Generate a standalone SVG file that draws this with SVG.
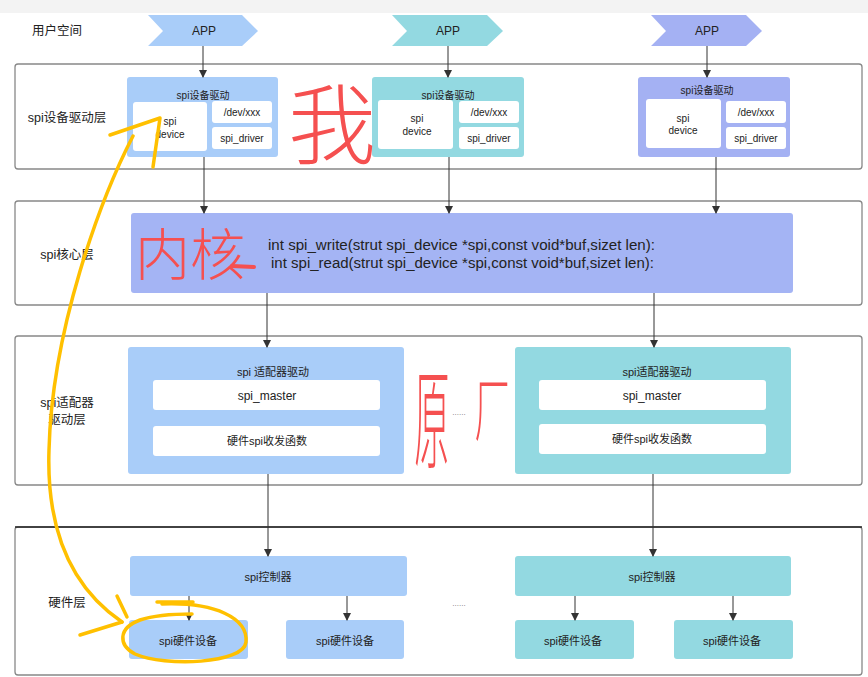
<svg xmlns="http://www.w3.org/2000/svg" width="868" height="677" viewBox="0 0 868 677">
<style>
text{font-family:"Liberation Sans","Noto Sans CJK SC",sans-serif;fill:#222;text-anchor:middle;dominant-baseline:central}
.layer{fill:#fff;stroke:#888;stroke-width:1.3}
.blue{fill:#a9cdf9}
.teal{fill:#93d9e1}
.purp{fill:#a4b1f3}
.core{fill:#a4b4f4}
.wbox{fill:#fff}
.lab{font-size:12.5px}
.t10{font-size:10px}
.t11{font-size:11px}
.t12{font-size:12px}
.dots{font-size:8px;fill:#777}
.conn line{stroke:#333;stroke-width:1}
.hand{fill:#f55050;font-family:"Noto Sans CJK SC",sans-serif;font-weight:300}
.ylw{fill:none;stroke:#ffc000;stroke-width:3.5;stroke-linecap:round;stroke-linejoin:round}
</style>
<defs>
<marker id="ah" markerWidth="8" markerHeight="10" refX="7" refY="5" orient="auto" markerUnits="userSpaceOnUse">
<path d="M0,1 L8,5 L0,9 Z" fill="#333"/>
</marker>
</defs>
<rect x="0" y="0" width="868" height="677" fill="#fff"/>
<rect x="0" y="0" width="868" height="13" fill="#f3f3f3"/>

<g id="user-space">
<text class="lab" x="57" y="31">用户空间</text>
</g>
<g id="app1"><path class="blue" d="M148,15 H242 L258,31 L242,46 H148 L163,31 Z"/><text class="t12" x="204" y="31">APP</text></g>
<g id="app2"><path class="teal" d="M392,15 H487 L503,31 L487,46 H392 L407,31 Z"/><text class="t12" x="448" y="31">APP</text></g>
<g id="app3"><path class="purp" d="M651,15 H746 L762,31 L746,46 H651 L666,31 Z"/><text class="t12" x="707" y="31">APP</text></g>

<g id="layer-driver">
<rect class="layer" x="15" y="64" width="847" height="105" rx="3"/>
<text class="lab" x="67" y="118">spi设备驱动层</text>
</g>
<g id="drv1">
<rect class="blue" x="127" y="77" width="151" height="80" rx="3"/>
<text class="t10" x="203" y="95">spi设备驱动</text>
<rect class="wbox" x="133" y="102" width="74" height="49" rx="3"/>
<text class="t10" x="170" y="121">spi</text><text class="t10" x="170" y="134">device</text>
<rect class="wbox" x="212" y="101" width="60" height="22" rx="3"/><text class="t10" x="242" y="112">/dev/xxx</text>
<rect class="wbox" x="212" y="127" width="60" height="22" rx="3"/><text class="t10" x="242" y="138">spi_driver</text>
</g>
<g id="drv2">
<rect class="teal" x="372" y="77" width="152" height="80" rx="3"/>
<text class="t10" x="448" y="95">spi设备驱动</text>
<rect class="wbox" x="378" y="100" width="75" height="49" rx="3"/>
<text class="t10" x="417" y="118">spi</text><text class="t10" x="417" y="131">device</text>
<rect class="wbox" x="459" y="101" width="60" height="22" rx="3"/><text class="t10" x="489" y="112">/dev/xxx</text>
<rect class="wbox" x="459" y="127" width="60" height="22" rx="3"/><text class="t10" x="489" y="138">spi_driver</text>
</g>
<g id="drv3">
<rect class="purp" x="638" y="77" width="152" height="80" rx="3"/>
<text class="t10" x="707" y="90">spi设备驱动</text>
<rect class="wbox" x="646" y="99" width="75" height="49" rx="3"/>
<text class="t10" x="683" y="118">spi</text><text class="t10" x="683" y="130">device</text>
<rect class="wbox" x="726" y="101" width="60" height="22" rx="3"/><text class="t10" x="756" y="112">/dev/xxx</text>
<rect class="wbox" x="726" y="127" width="60" height="22" rx="3"/><text class="t10" x="756" y="138">spi_driver</text>
</g>

<g id="layer-core">
<rect class="layer" x="15" y="201" width="847" height="104" rx="3"/>
<text class="lab" x="67" y="255">spi核心层</text>
</g>
<g id="core">
<rect class="core" x="131" y="213" width="662" height="80" rx="3"/>
<text x="268" y="245" style="font-size:14px;text-anchor:start" textLength="387" lengthAdjust="spacingAndGlyphs">int spi_write(strut spi_device *spi,const void*buf,sizet len):</text>
<text x="271" y="263" style="font-size:14px;text-anchor:start" textLength="383" lengthAdjust="spacingAndGlyphs">int spi_read(strut spi_device *spi,const void*buf,sizet len):</text>
</g>

<g id="layer-adapter">
<rect class="layer" x="15" y="336" width="847" height="149" rx="3"/>
<text class="lab" x="67" y="403">spi适配器</text>
<text class="lab" x="67" y="420">驱动层</text>
<text class="dots" x="459" y="412">......</text>
</g>
<g id="adapter1">
<rect class="blue" x="128" y="347" width="276" height="127" rx="3"/>
<text class="t11" x="273" y="372">spi 适配器驱动</text>
<rect class="wbox" x="153" y="380" width="227" height="30" rx="3"/><text class="t12" x="267" y="396">spi_master</text>
<rect class="wbox" x="153" y="426" width="227" height="30" rx="3"/><text class="t11" x="267" y="441">硬件spi收发函数</text>
</g>
<g id="adapter2">
<rect class="teal" x="515" y="347" width="276" height="127" rx="3"/>
<text class="t11" x="657" y="372">spi适配器驱动</text>
<rect class="wbox" x="539" y="380" width="227" height="30" rx="3"/><text class="t12" x="652" y="396">spi_master</text>
<rect class="wbox" x="539" y="424" width="227" height="30" rx="3"/><text class="t11" x="652" y="439">硬件spi收发函数</text>
</g>

<g id="layer-hw">
<rect class="layer" x="15" y="527" width="847" height="148" rx="3"/>
<line x1="15" y1="527" x2="862" y2="527" stroke="#222" stroke-width="1.3"/>
<text class="lab" x="67" y="603">硬件层</text>
<text class="dots" x="459" y="603">......</text>
</g>
<g id="ctrl1"><rect class="blue" x="130" y="556" width="277" height="40" rx="3"/><text class="t11" x="268" y="577">spi控制器</text></g>
<g id="hw1"><rect class="blue" x="129" y="620" width="119" height="39" rx="3"/><text class="t11" x="188" y="641">spi硬件设备</text></g>
<g id="hw2"><rect class="blue" x="286" y="620" width="118" height="39" rx="3"/><text class="t11" x="345" y="641">spi硬件设备</text></g>
<g id="ctrl2"><rect class="teal" x="515" y="556" width="276" height="40" rx="3"/><text class="t11" x="652" y="577">spi控制器</text></g>
<g id="hw3"><rect class="teal" x="515" y="620" width="119" height="39" rx="3"/><text class="t11" x="573" y="641">spi硬件设备</text></g>
<g id="hw4"><rect class="teal" x="674" y="620" width="119" height="39" rx="3"/><text class="t11" x="732" y="641">spi硬件设备</text></g>

<g id="connectors" class="conn">
<line x1="203" y1="46" x2="203" y2="77" marker-end="url(#ah)"/>
<line x1="448" y1="46" x2="448" y2="77" marker-end="url(#ah)"/>
<line x1="707" y1="46" x2="707" y2="77" marker-end="url(#ah)"/>
<line x1="204" y1="157" x2="204" y2="213" marker-end="url(#ah)"/>
<line x1="449" y1="157" x2="449" y2="213" marker-end="url(#ah)"/>
<line x1="716" y1="157" x2="716" y2="213" marker-end="url(#ah)"/>
<line x1="267" y1="293" x2="267" y2="347" marker-end="url(#ah)"/>
<line x1="654" y1="293" x2="654" y2="347" marker-end="url(#ah)"/>
<line x1="268" y1="474" x2="268" y2="556" marker-end="url(#ah)"/>
<line x1="653" y1="474" x2="653" y2="556" marker-end="url(#ah)"/>
<line x1="189" y1="596" x2="189" y2="620" marker-end="url(#ah)"/>
<line x1="347" y1="596" x2="347" y2="620" marker-end="url(#ah)"/>
<line x1="575" y1="596" x2="575" y2="620" marker-end="url(#ah)"/>
<line x1="733" y1="596" x2="733" y2="620" marker-end="url(#ah)"/>
</g>

<g id="annotations">
<text class="hand" x="332" y="118" style="font-size:88px">我</text>
<text class="hand" x="190" y="250" style="font-size:56px" textLength="110" lengthAdjust="spacingAndGlyphs">内核</text>
<line x1="232" y1="266" x2="254" y2="267" stroke="#f55050" stroke-width="4" stroke-linecap="round"/>
<text class="hand" x="0" y="0" transform="translate(432,412) scale(0.42,1.3)" style="font-size:84px">原</text>
<text class="hand" x="0" y="0" transform="translate(492,405) scale(0.55,1.1)" style="font-size:64px">厂</text>
<path class="ylw" d="M133,136 C100,200 52,330 49,450 C46,540 78,592 122,622"/>
<path class="ylw" d="M110,135 L160,118 L153,167"/>
<path class="ylw" d="M117,596 L127,617 M80,635 L122,622"/>
<path class="ylw" d="M157,602 L193,602"/>
<path class="ylw" d="M162,604 C215,602 248,618 246,642 C244,664 165,667 135,654 C118,645 118,628 140,620 C155,615 175,614 192,614"/>
</g>
</svg>
